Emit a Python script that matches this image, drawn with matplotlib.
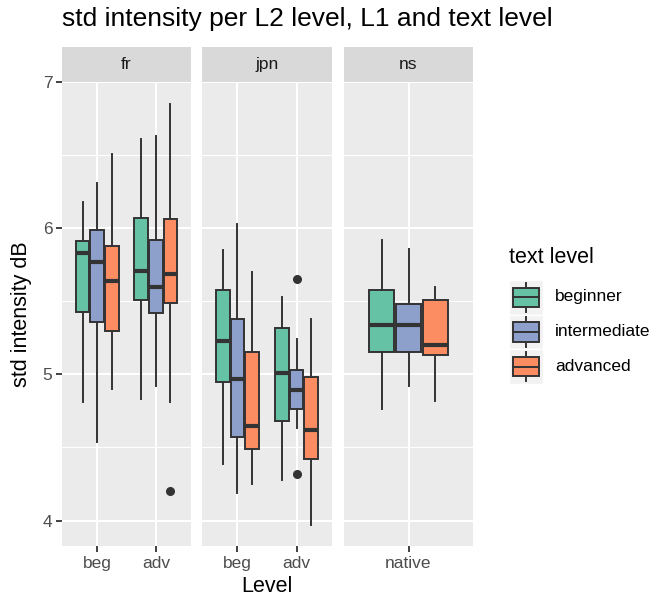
import matplotlib
matplotlib.use("Agg")
import matplotlib.pyplot as plt
from matplotlib.patches import Rectangle
from matplotlib.lines import Line2D

plt.rcParams['font.family'] = ['Liberation Sans', 'DejaVu Sans']

# ---------------- data ----------------
panels = ['fr', 'jpn', 'ns']
panel_levels = {'fr': ['beg', 'adv'], 'jpn': ['beg', 'adv'], 'ns': ['native']}
text_levels = ['beginner', 'intermediate', 'advanced']
colors = ['#66C2A5', '#8DA0CB', '#FC8D62']

# [whisker low, Q1, median, Q3, whisker high] for beginner / intermediate / advanced
fr_beg = [[4.81, 5.43, 5.83, 5.91, 6.18], [4.54, 5.36, 5.77, 5.99, 6.31], [4.90, 5.30, 5.64, 5.88, 6.51]]
fr_adv = [[4.83, 5.51, 5.71, 6.07, 6.61], [4.92, 5.42, 5.60, 5.92, 6.63], [4.81, 5.49, 5.69, 6.06, 6.85]]
jpn_beg = [[4.39, 4.95, 5.23, 5.58, 5.85], [4.19, 4.57, 4.97, 5.38, 6.03], [4.25, 4.49, 4.65, 5.15, 5.70]]
jpn_adv = [[4.28, 4.68, 5.01, 5.32, 5.53], [4.63, 4.76, 4.89, 5.03, 5.24], [3.97, 4.42, 4.62, 4.98, 5.38]]
ns_native = [[4.76, 5.15, 5.34, 5.58, 5.92], [4.92, 5.15, 5.34, 5.48, 5.86], [4.82, 5.13, 5.20, 5.51, 5.60]]

fr_beg_out = [[], [], []]
fr_adv_out = [[], [], [4.20]]
jpn_beg_out = [[], [], []]
jpn_adv_out = [[], [5.65, 4.32], []]
ns_native_out = [[], [], []]

data = {
    'fr': [(fr_beg, fr_beg_out), (fr_adv, fr_adv_out)],
    'jpn': [(jpn_beg, jpn_beg_out), (jpn_adv, jpn_adv_out)],
    'ns': [(ns_native, ns_native_out)],
}
y_ticks = [4, 5, 6, 7]

# ---------------- layout ----------------
W, H = 655, 601
fig = plt.figure(figsize=(W / 100, H / 100), dpi=100)
fig.patch.set_facecolor('white')


def rect(x0, x1, y0, y1):
    return [x0 / W, 1 - y1 / H, (x1 - x0) / W, (y1 - y0) / H]


panel_x = {'fr': (62, 191), 'jpn': (202, 332), 'ns': (344, 473)}
py0, py1 = 82, 546
strip_y0 = 47

# y range (ggplot 5% expansion)
all_vals = []
for p in panels:
    for st, outs in data[p]:
        for s, o in zip(st, outs):
            all_vals += s + o
lo, hi = min(all_vals), max(all_vals)
pad = 0.05 * (hi - lo)
ylim = (lo - pad, hi + pad)

edge = '#333333'
for pi, p in enumerate(panels):
    x0, x1 = panel_x[p]
    ax = fig.add_axes(rect(x0, x1, py0, py1))
    ax.set_facecolor('#EBEBEB')
    for sp in ax.spines.values():
        sp.set_visible(False)
    levels = panel_levels[p]
    n = len(levels)
    ax.set_xlim(0.4, n + 0.6)
    ax.set_ylim(*ylim)
    ax.set_yticks(y_ticks)
    ax.set_yticks([4.5, 5.5, 6.5], minor=True)
    ax.set_xticks(range(1, n + 1))
    ax.set_xticklabels(levels)
    ax.set_axisbelow(True)
    ax.grid(which='major', color='white', lw=1.5)
    ax.grid(which='minor', axis='y', color='white', lw=0.8)
    ax.tick_params(axis='x', length=4, width=1.3, color=edge, labelcolor='#4D4D4D',
                   labelsize=12.5, pad=3)
    ax.tick_params(axis='y', which='minor', length=0)
    if pi == 0:
        ax.tick_params(axis='y', which='major', length=4, width=1.3, color=edge,
                       labelcolor='#4D4D4D', labelsize=12.5, pad=3)
    else:
        ax.tick_params(axis='y', which='major', length=0, labelleft=False)

    for li, (st, outs) in enumerate(data[p]):
        for j in range(3):
            s = st[j]
            pos = li + 1 + (j - 1) * 0.25
            stats = [{'whislo': s[0], 'q1': s[1], 'med': s[2], 'q3': s[3], 'whishi': s[4],
                      'fliers': outs[j]}]
            ax.bxp(stats, positions=[pos], widths=0.235, patch_artist=True, showcaps=False,
                   boxprops=dict(facecolor=colors[j], edgecolor=edge, lw=1.4),
                   medianprops=dict(color=edge, lw=3.0, solid_capstyle='butt'),
                   whiskerprops=dict(color=edge, lw=1.4),
                   flierprops=dict(marker='o', markerfacecolor=edge, markeredgecolor=edge,
                                   markersize=5.5),
                   manage_ticks=False, zorder=3)

    # strip
    sax = fig.add_axes(rect(x0, x1, strip_y0, py0))
    sax.set_facecolor('#D9D9D9')
    sax.set_xticks([])
    sax.set_yticks([])
    for sp in sax.spines.values():
        sp.set_visible(False)
    sax.text(0.5, 0.5, p, ha='center', va='center', fontsize=12.5, color='#1A1A1A',
             transform=sax.transAxes)

# titles
fig.text(62 / W, 1 - 19 / H, 'std intensity per L2 level, L1 and text level',
         ha='left', va='center', fontsize=19, color='black')
fig.text(267 / W, 1 - 587 / H, 'Level', ha='center', va='center', fontsize=15.5)
fig.text(22 / W, 1 - 314 / H, 'std intensity dB', ha='center', va='center',
         rotation=90, fontsize=15.5)

# legend
fig.text(509 / W, 1 - 257 / H, 'text level', ha='left', va='center', fontsize=15.5)
lax = fig.add_axes(rect(509, 543, 280, 384))
lax.set_xlim(0, 1)
lax.set_ylim(3, 0)
lax.axis('off')
for j, lab in enumerate(text_levels):
    lax.add_patch(Rectangle((0, j), 1, 1, facecolor='#F2F2F2', edgecolor='white', lw=1))
    lax.add_line(Line2D([0.5, 0.5], [j + 0.08, j + 0.92], color=edge, lw=1.4))
    lax.add_patch(Rectangle((0.12, j + 0.22), 0.76, 0.56, facecolor=colors[j],
                            edgecolor=edge, lw=1.4, zorder=3))
    lax.add_line(Line2D([0.12, 0.88], [j + 0.5, j + 0.5], color=edge, lw=1.4, zorder=4))
    fig.text(555 / W, 1 - (280 + 34.7 * j + 17) / H, lab, ha='left', va='center',
             fontsize=12.5, color='black')

fig.savefig('out.png', dpi=100)
